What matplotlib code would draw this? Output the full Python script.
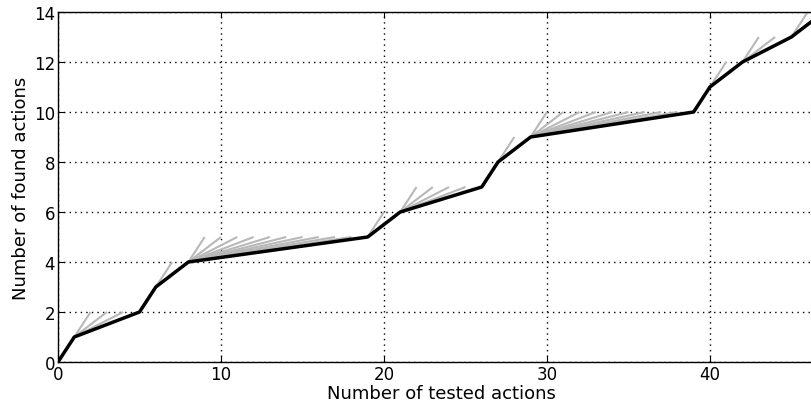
import matplotlib
matplotlib.use("Agg")
import matplotlib.pyplot as plt

# Black path: number of tested actions vs number of found actions
tested = [0, 1, 5, 6, 8, 19, 21, 26, 27, 29, 39, 40, 42, 45, 47]
found = [0, 1, 2, 3, 4, 5, 6, 7, 8, 9, 10, 11, 12, 13, 14]

# Alternative (gray) endpoints from each vertex, reaching found+1
alternatives = [
    [],
    [2, 3, 4],
    [],
    [7],
    [9, 10, 11, 12, 13, 14, 15, 16, 17, 18],
    [20],
    [22, 23, 24, 25],
    [],
    [28],
    [30, 31, 32, 33, 34, 35, 36, 37, 38],
    [],
    [41],
    [43, 44],
    [46],
]

x_ticks = [0, 10, 20, 30, 40]
y_ticks = [0, 2, 4, 6, 8, 10, 12, 14]

fig = plt.figure(figsize=(8.11, 4.10), dpi=100)
ax = fig.add_axes([58 / 811, 47 / 410, 766 / 811, 350 / 410])

for i, alts in enumerate(alternatives):
    for a in alts:
        ax.plot([tested[i], a], [found[i], found[i] + 1], color="0.72",
                lw=1.5, solid_capstyle="butt", zorder=2)

ax.plot(tested, found, color="black", lw=2.5, zorder=3)

ax.set_xlim(0, 47)
ax.set_ylim(0, 14)
ax.set_xticks(x_ticks)
ax.set_yticks(y_ticks)
ax.grid(True, color="black", linestyle=(0, (1, 3)), linewidth=1.0)
ax.tick_params(direction="in", top=True, right=True, length=4, labelsize=12, pad=2)
for s in ax.spines.values():
    s.set_linewidth(1.0)
ax.set_xlabel("Number of tested actions", fontsize=13, labelpad=1)
ax.set_ylabel("Number of found actions", fontsize=13, labelpad=3)

fig.savefig("out.png", dpi=100)
